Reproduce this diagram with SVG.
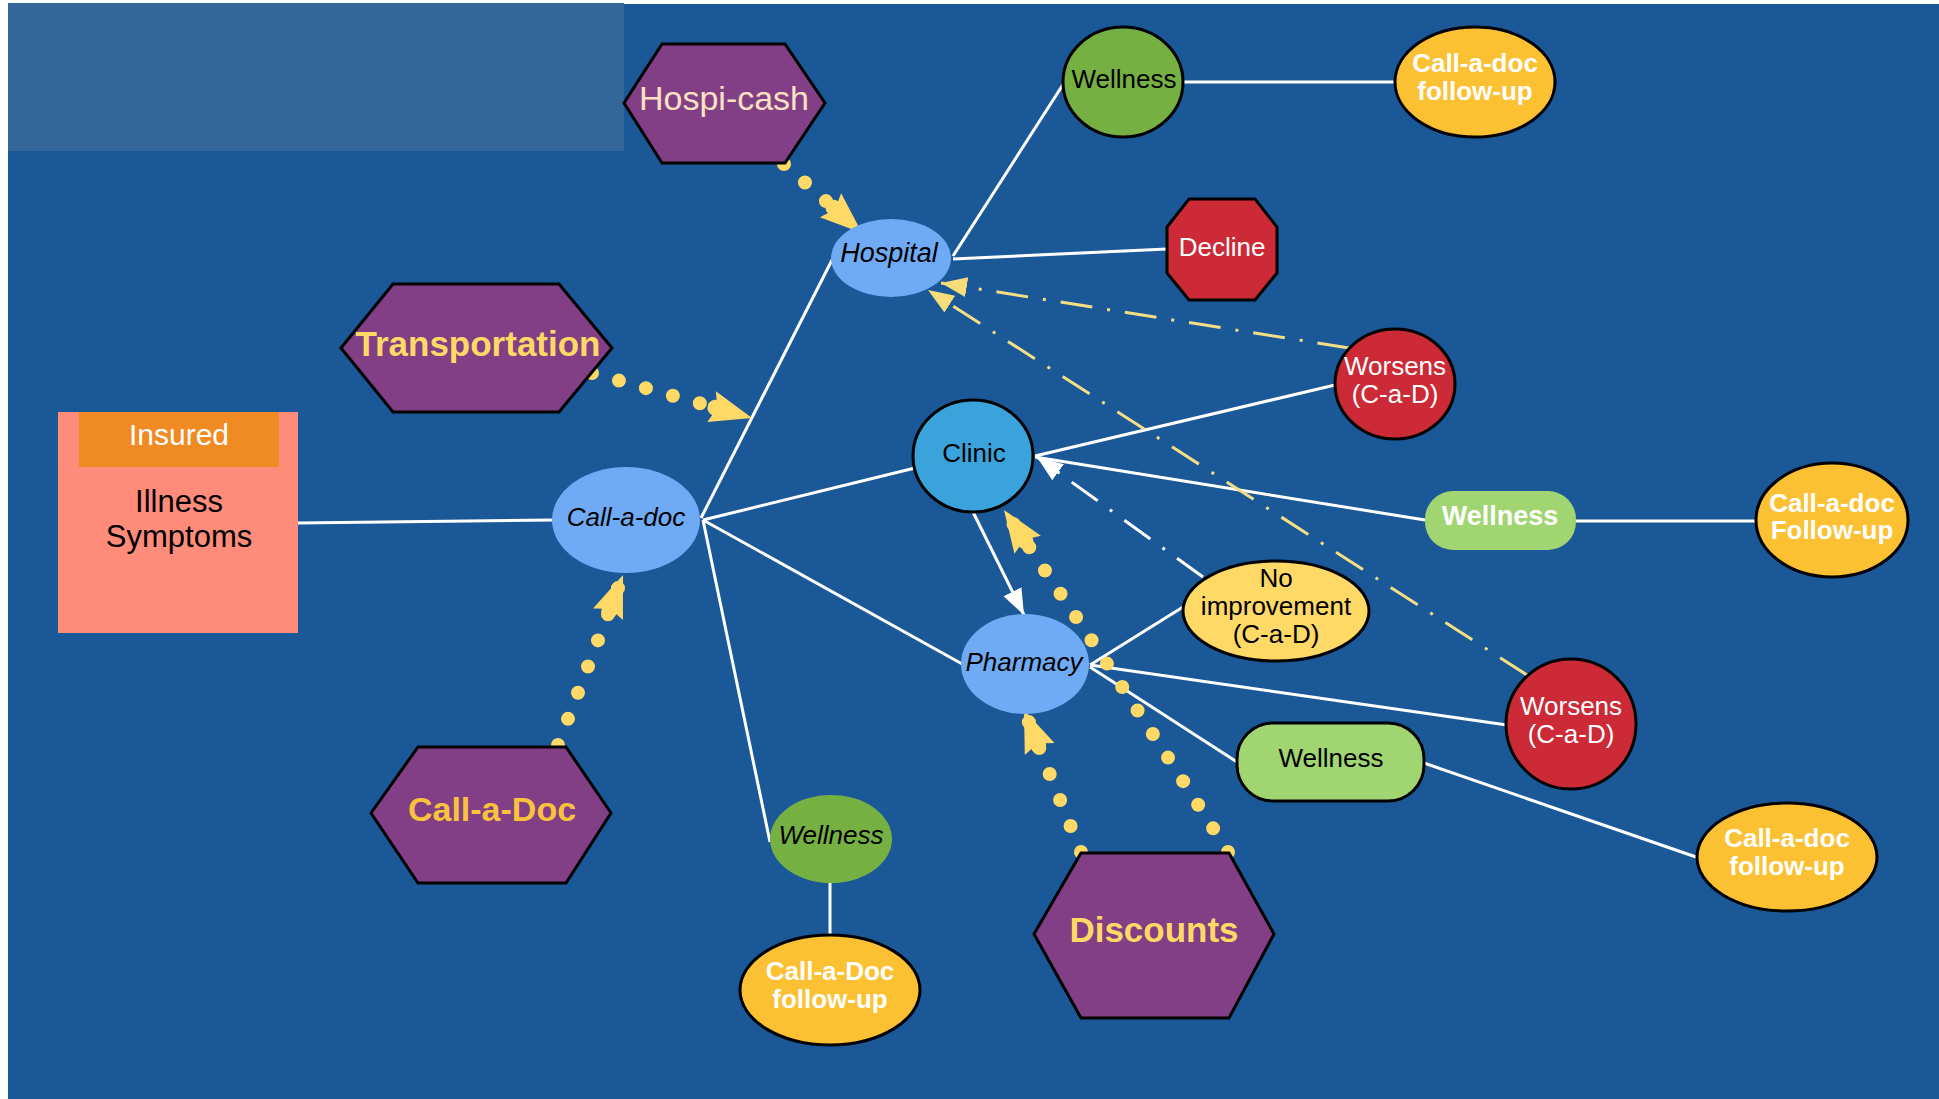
<svg xmlns="http://www.w3.org/2000/svg" width="1939" height="1099" viewBox="0 0 1939 1099">
<defs>
<style>
.t{font-family:"Liberation Sans",Arial,sans-serif;text-anchor:middle}
.hex{fill:#823F86;stroke:#000;stroke-width:3}
.ln{stroke:#fff;stroke-width:3;fill:none}
.dot{stroke:#FFD966;stroke-width:14;stroke-linecap:round;stroke-dasharray:0 28;fill:none}
.dd{stroke:#F3DE84;stroke-width:3;stroke-dasharray:32 15 3 15;fill:none}
.ddw{stroke:#fff;stroke-width:3;stroke-dasharray:32 15 3 15;fill:none}
.bk{stroke:#000;stroke-width:3}
</style>
<marker id="fat" markerUnits="userSpaceOnUse" markerWidth="50" markerHeight="36" viewBox="0 0 50 36" refX="46" refY="18" orient="auto">
<path d="M4,2 L46,18 L4,34 L10,18 Z" fill="#FFD966"/>
<circle cx="8" cy="18" r="8" fill="#FFD966"/>
</marker>
<marker id="ty" markerUnits="userSpaceOnUse" markerWidth="28" markerHeight="24" viewBox="0 0 28 24" refX="26" refY="12" orient="auto">
<path d="M0,2 L26,12 L0,22 Z" fill="#F7DC7A"/>
</marker>
<marker id="tw" markerUnits="userSpaceOnUse" markerWidth="28" markerHeight="24" viewBox="0 0 28 24" refX="26" refY="12" orient="auto">
<path d="M0,2 L26,12 L0,22 Z" fill="#fff"/>
</marker>
</defs>
<rect x="0" y="0" width="1939" height="1099" fill="#fff"/>
<rect x="8" y="4" width="1931" height="1095" fill="#1B5898"/>
<rect id="title-panel" x="8" y="3" width="616" height="148" fill="#336699"/>

<g id="connectors">
<line class="ln" x1="298" y1="523" x2="552" y2="520"/>
<line class="ln" x1="701" y1="518" x2="832" y2="260"/>
<line class="ln" x1="703" y1="520" x2="915" y2="468"/>
<line class="ln" x1="703" y1="520" x2="964" y2="665"/>
<line class="ln" x1="703" y1="520" x2="770" y2="842"/>
<line class="ln" x1="830" y1="883" x2="830" y2="935"/>
<line class="ln" x1="953" y1="256" x2="1064" y2="83"/>
<line class="ln" x1="953" y1="259" x2="1167" y2="249"/>
<line class="ln" x1="1183" y1="82" x2="1395" y2="82"/>
<line class="ln" x1="1035" y1="456" x2="1335" y2="385"/>
<line class="ln" x1="1035" y1="457" x2="1425" y2="520"/>
<line class="ln" x1="1576" y1="521" x2="1757" y2="521"/>
<line class="ln" x1="973" y1="512" x2="1024" y2="615" marker-end="url(#tw)"/>
<line class="ln" x1="1090" y1="665" x2="1183" y2="607"/>
<line class="ln" x1="1090" y1="665" x2="1507" y2="725"/>
<line class="ln" x1="1090" y1="667" x2="1237" y2="762"/>
<line class="ln" x1="1424" y1="763" x2="1696" y2="857"/>
<line class="dd" x1="1349" y1="348" x2="941" y2="283" marker-end="url(#ty)"/>
<line class="dd" x1="1527" y1="675" x2="928" y2="290" marker-end="url(#ty)"/>
<line class="ddw" x1="1203" y1="577" x2="1037" y2="457" marker-end="url(#tw)"/>
<path class="dot" d="M784,164 L862,233" marker-end="url(#fat)"/>
<path class="dot" d="M592,373 L752,418" marker-end="url(#fat)"/>
<path class="dot" d="M558,745 L623,575" marker-end="url(#fat)"/>
<path class="dot" d="M1081,852 L1024,710" marker-end="url(#fat)"/>
<path class="dot" d="M1228,852 Q1120,680 1004,510" marker-end="url(#fat)"/>
</g>

<g id="insured">
<rect x="58" y="412" width="240" height="221" fill="#FF8B7B"/>
<rect x="79" y="412" width="200" height="55" fill="#EF8B22"/>
<text class="t" x="179" y="445" font-size="30" fill="#fff">Insured</text>
<text class="t" x="179" y="512" font-size="31" fill="#000">Illness</text>
<text class="t" x="179" y="547" font-size="31" fill="#000">Symptoms</text>
</g>

<g id="hospi-cash">
<polygon class="hex" points="624,103 662,44 785,44 825,103 785,163 662,163"/>
<text class="t" x="724" y="110" font-size="34" fill="#FCE2C2">Hospi-cash</text>
</g>
<g id="transportation">
<polygon class="hex" points="341,348 393,284 559,284 612,348 559,412 393,412"/>
<text class="t" x="478" y="356" font-size="35" font-weight="bold" fill="#FFD966">Transportation</text>
</g>
<g id="call-a-doc-hex">
<polygon class="hex" points="371,813 418,747 566,747 611,813 566,883 418,883"/>
<text class="t" x="492" y="821" font-size="34" font-weight="bold" fill="#F9C23C">Call-a-Doc</text>
</g>
<g id="discounts">
<polygon class="hex" points="1034,934 1081,853 1229,853 1274,934 1229,1018 1081,1018"/>
<text class="t" x="1154" y="942" font-size="35" font-weight="bold" fill="#FFD966">Discounts</text>
</g>

<g id="call-a-doc">
<ellipse cx="626" cy="520" rx="74" ry="53" fill="#6FABF5"/>
<text class="t" x="626" y="526" font-size="26" font-style="italic" fill="#000">Call-a-doc</text>
</g>
<g id="hospital">
<ellipse cx="891" cy="258" rx="60" ry="39" fill="#6FABF5"/>
<text class="t" x="889" y="262" font-size="27" font-style="italic" fill="#000">Hospital</text>
</g>
<g id="wellness-top">
<ellipse class="bk" cx="1123" cy="82" rx="60" ry="55" fill="#76B043"/>
<text class="t" x="1124" y="88" font-size="26" fill="#000">Wellness</text>
</g>
<g id="followup-top">
<ellipse class="bk" cx="1475" cy="82" rx="80" ry="55" fill="#FBC133"/>
<text class="t" x="1475" y="72" font-size="26" font-weight="bold" fill="#fff">Call-a-doc</text>
<text class="t" x="1475" y="100" font-size="26" font-weight="bold" fill="#fff">follow-up</text>
</g>
<g id="decline">
<polygon class="bk" points="1189,199 1255,199 1277,227 1277,273 1255,300 1189,300 1167,273 1167,227" fill="#CC2A36"/>
<text class="t" x="1222" y="256" font-size="26" fill="#fff">Decline</text>
</g>
<g id="worsens-top">
<ellipse class="bk" cx="1395" cy="384" rx="60" ry="55" fill="#CC2A36"/>
<text class="t" x="1395" y="375" font-size="26" fill="#fff">Worsens</text>
<text class="t" x="1395" y="403" font-size="26" fill="#fff">(C-a-D)</text>
</g>
<g id="clinic">
<ellipse class="bk" cx="973" cy="456" rx="60" ry="56" fill="#3AA3DB"/>
<text class="t" x="974" y="462" font-size="26" fill="#000">Clinic</text>
</g>
<g id="wellness-mid">
<rect x="1425" y="491" width="151" height="59" rx="28" fill="#A0D572"/>
<text class="t" x="1500" y="525" font-size="27" font-weight="bold" fill="#fff">Wellness</text>
</g>
<g id="followup-mid">
<ellipse class="bk" cx="1832" cy="520" rx="76" ry="57" fill="#FBC133"/>
<text class="t" x="1832" y="512" font-size="26" font-weight="bold" fill="#fff">Call-a-doc</text>
<text class="t" x="1832" y="539" font-size="26" font-weight="bold" fill="#fff">Follow-up</text>
</g>
<g id="no-improvement">
<ellipse class="bk" cx="1276" cy="611" rx="93" ry="50" fill="#FFD966"/>
<text class="t" x="1276" y="587" font-size="26" fill="#000">No</text>
<text class="t" x="1276" y="615" font-size="26" fill="#000">improvement</text>
<text class="t" x="1276" y="643" font-size="26" fill="#000">(C-a-D)</text>
</g>
<g id="pharmacy">
<ellipse cx="1025" cy="664" rx="64" ry="50" fill="#6FABF5"/>
<text class="t" x="1024" y="671" font-size="26" font-style="italic" fill="#000">Pharmacy</text>
</g>
<g id="worsens-bottom">
<ellipse class="bk" cx="1571" cy="724" rx="65" ry="65" fill="#CC2A36"/>
<text class="t" x="1571" y="715" font-size="26" fill="#fff">Worsens</text>
<text class="t" x="1571" y="743" font-size="26" fill="#fff">(C-a-D)</text>
</g>
<g id="wellness-bottom">
<rect class="bk" x="1237" y="723" width="187" height="78" rx="36" fill="#A0D572"/>
<text class="t" x="1331" y="767" font-size="26" fill="#000">Wellness</text>
</g>
<g id="followup-bottom-right">
<ellipse class="bk" cx="1787" cy="857" rx="90" ry="54" fill="#FBC133"/>
<text class="t" x="1787" y="847" font-size="26" font-weight="bold" fill="#fff">Call-a-doc</text>
<text class="t" x="1787" y="875" font-size="26" font-weight="bold" fill="#fff">follow-up</text>
</g>
<g id="wellness-bottom-left">
<ellipse cx="831" cy="839" rx="61" ry="44" fill="#76B043"/>
<text class="t" x="831" y="844" font-size="26" font-style="italic" fill="#000">Wellness</text>
</g>
<g id="followup-bottom">
<ellipse class="bk" cx="830" cy="990" rx="90" ry="55" fill="#FBC133"/>
<text class="t" x="830" y="980" font-size="26" font-weight="bold" fill="#fff">Call-a-Doc</text>
<text class="t" x="830" y="1008" font-size="26" font-weight="bold" fill="#fff">follow-up</text>
</g>
</svg>
